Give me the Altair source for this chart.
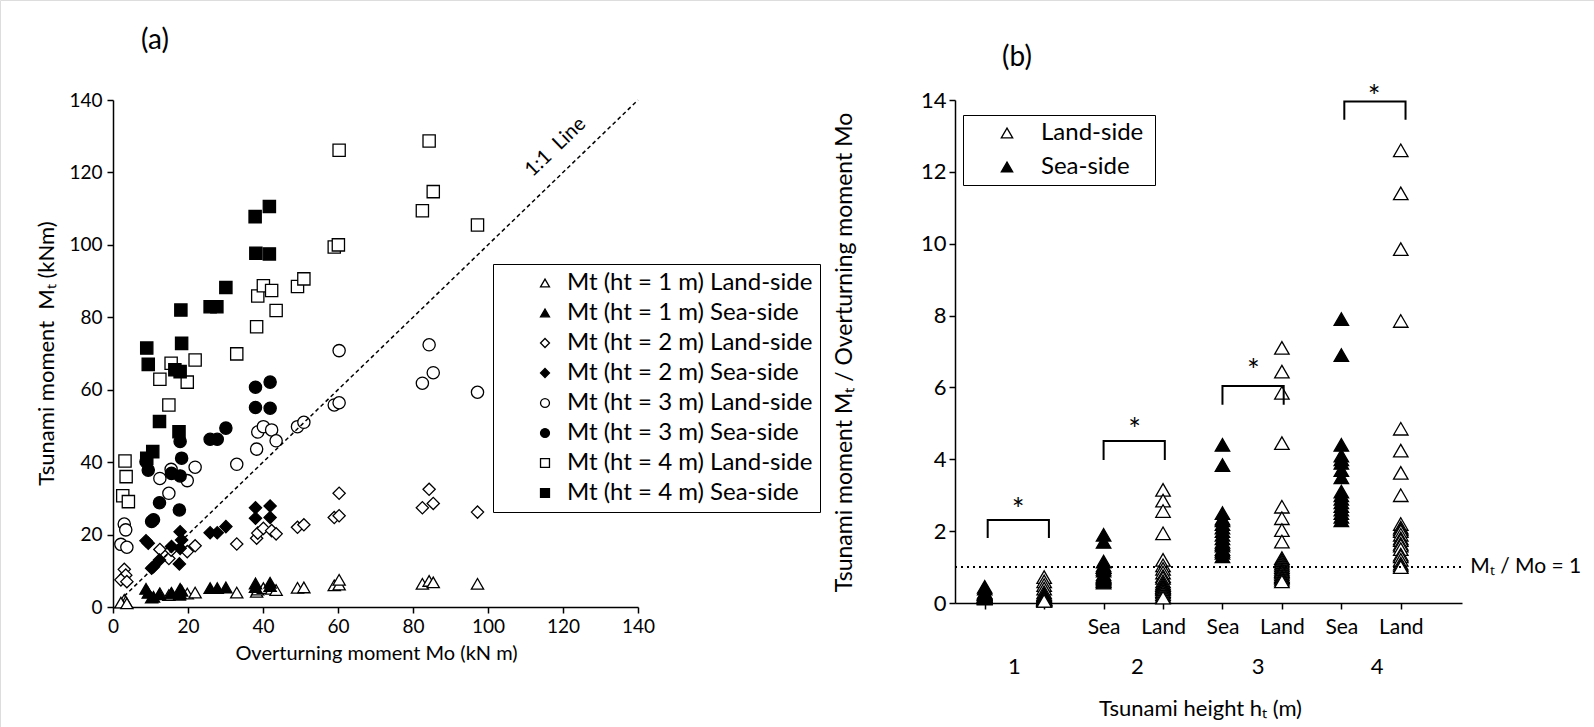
import altair as alt
import pandas as pd

W, H = 1594, 727
FONT = "Lato"
NB = "\u00a0"

# ---------------- Panel (a): Mt vs Mo ----------------
series_names = [
    "Mt (ht = 1 m) Land-side", "Mt (ht = 1 m) Sea-side",
    "Mt (ht = 2 m) Land-side", "Mt (ht = 2 m) Sea-side",
    "Mt (ht = 3 m) Land-side", "Mt (ht = 3 m) Sea-side",
    "Mt (ht = 4 m) Land-side", "Mt (ht = 4 m) Sea-side",
]
series_shapes = ["triangle-up", "triangle-up", "diamond", "diamond",
                 "circle", "circle", "square", "square"]
series_fills = ["white", "black"] * 4

land_x = [3.0, 3.4, 2.1, 3.7, 12.5, 14.9, 15.5, 19.8, 21.9, 33.0, 38.3, 38.6,
          40.1, 42.3, 43.5, 49.2, 50.9, 59.0, 60.3, 60.3, 82.5, 84.3, 85.4, 97.2]
land_x4 = [3.2, 3.5, 2.6, 4.1, 12.5, 14.9, 15.5, 19.8, 21.9, 33.0, 38.3, 38.6,
           40.1, 42.3, 43.5, 49.2, 50.9, 59.0, 60.1, 60.3, 82.5, 84.3, 85.4, 97.2]
sea_x = [8.8, 9.4, 10.3, 10.8, 12.4, 15.6, 17.7, 17.9, 17.9, 18.3, 25.9, 27.8,
         30.1, 38.0, 38.0, 41.9, 41.9]
sea_x4 = [9.0, 9.4, 10.6, 9.0, 12.4, 16.5, 17.9, 17.6, 18.1, 18.3, 25.9, 27.7,
          30.1, 37.9, 41.7, 38.1, 41.7]

mt1_land = [2.0, 1.5, 1.2, 1.0, 3.8, 3.3, 3.7, 3.7, 4.0, 4.0, 4.2, 4.8,
            5.2, 5.0, 4.7, 5.3, 5.4, 6.0, 6.2, 7.5, 6.4, 7.2, 6.8, 6.4]
mt1_sea = [5.0, 3.9, 2.6, 2.8, 3.5, 3.9, 3.4, 5.0, 3.8, 4.5, 5.2, 5.2,
           5.4, 6.5, 5.5, 6.7, 5.8]
mt2_land = [10.4, 8.8, 7.5, 7.0, 15.9, 13.4, 15.7, 15.3, 16.9, 17.4, 19.0, 20.4,
            21.7, 21.1, 20.2, 22.0, 22.7, 24.7, 25.2, 31.4, 27.4, 32.5, 28.6, 26.2]
mt2_sea = [18.3, 17.6, 10.7, 11.1, 13.0, 16.7, 11.9, 20.8, 16.2, 18.5, 20.5, 20.5,
           22.2, 27.4, 24.5, 27.9, 24.7]
mt3_land = [22.9, 21.3, 17.3, 16.5, 35.5, 31.4, 38.0, 34.9, 38.6, 39.4, 43.6, 48.3,
            49.8, 48.9, 45.9, 49.8, 51.0, 55.8, 56.4, 70.8, 61.8, 72.4, 64.7, 59.3]
mt3_sea = [40.1, 37.8, 23.6, 24.1, 28.8, 36.9, 26.8, 45.7, 36.2, 41.1, 46.3, 46.3,
           49.4, 60.7, 55.1, 62.1, 54.9]
mt4_land = [40.3, 36.0, 30.7, 29.1, 62.9, 55.8, 67.3, 62.1, 68.2, 69.9, 77.4, 85.9,
            88.7, 87.4, 81.9, 88.5, 90.6, 99.4, 100.0, 126.1, 109.4, 128.7, 114.7, 105.5]
mt4_sea = [71.5, 67.0, 42.9, 41.1, 51.2, 65.5, 65.0, 48.4, 82.0, 72.8, 82.9, 82.9,
           88.2, 107.8, 110.6, 97.7, 97.5]

line_x = [3, 140]
line_y = [3, 140]

# ---------------- Panel (b): Mt / Mo ----------------
cat_pos = [1, 2, 3, 4, 5, 6, 7, 8]
r1_sea = [0.45, 0.40, 0.30, 0.28, 0.26, 0.25, 0.25, 0.22, 0.20, 0.19, 0.19, 0.18,
          0.17, 0.16, 0.15, 0.14, 0.12]
r1_land = [0.72, 0.60, 0.50, 0.40, 0.30, 0.25, 0.22, 0.20, 0.18, 0.15, 0.13, 0.12,
           0.12, 0.11, 0.11, 0.10, 0.10, 0.10, 0.09, 0.08, 0.08, 0.07, 0.07, 0.06]
r2_sea = [1.90, 1.70, 1.15, 1.05, 1.00, 1.00, 0.95, 0.90, 0.80, 0.75, 0.72, 0.70,
          0.68, 0.65, 0.62, 0.60, 0.57]
r2_land = [3.15, 2.85, 2.56, 1.94, 1.20, 1.05, 0.95, 0.85, 0.75, 0.70, 0.60, 0.55,
           0.50, 0.50, 0.45, 0.45, 0.42, 0.40, 0.38, 0.33, 0.30, 0.25, 0.20, 0.15]
r3_sea = [4.40, 3.84, 2.50, 2.35, 2.30, 2.20, 2.10, 2.00, 1.90, 1.80, 1.70, 1.65,
          1.60, 1.50, 1.45, 1.40, 1.30]
r3_land = [7.10, 6.44, 5.85, 4.45, 2.68, 2.36, 2.03, 1.71, 1.25, 1.20, 1.15, 1.10,
           1.05, 1.00, 0.95, 0.90, 0.88, 0.85, 0.80, 0.75, 0.72, 0.70, 0.65, 0.60]
r4_sea = [7.90, 6.90, 4.40, 4.10, 4.00, 3.90, 3.70, 3.50, 3.10, 3.00, 2.90, 2.80,
          2.70, 2.60, 2.50, 2.40, 2.30]
r4_land = [12.60, 11.40, 9.85, 7.85, 4.85, 4.24, 3.62, 3.00, 2.20, 2.10, 2.05, 2.00,
           1.90, 1.80, 1.75, 1.65, 1.60, 1.50, 1.35, 1.30, 1.20, 1.10, 1.05, 1.00]

bracket_id = [1, 1, 1, 1, 2, 2, 2, 2, 3, 3, 3, 3, 4, 4, 4, 4]
bracket_ord = [0, 1, 2, 3] * 4
bracket_x = [1.05, 1.05, 2.08, 2.08, 3.0, 3.0, 4.03, 4.03,
             5.0, 5.0, 6.03, 6.03, 7.05, 7.05, 8.08, 8.08]
bracket_y = [1.81, 2.31, 2.31, 1.81, 3.98, 4.51, 4.51, 3.98,
             5.52, 6.04, 6.04, 5.52, 13.45, 13.96, 13.96, 13.45]
star_x = [1.56, 3.52, 5.52, 7.55]
star_y = [2.55, 4.78, 6.42, 14.05]

group_labels = ["1", "2", "3", "4"]
group_x = [1.5, 3.57, 5.6, 7.6]
ref_x = [0.5, 9.03]
ref_y = [1, 1]

# ---------------- build tables ----------------
rows = []
for name, xs, ys in zip(series_names,
                        [land_x, sea_x, land_x, sea_x, land_x, sea_x, land_x4, sea_x4],
                        [mt1_land, mt1_sea, mt2_land, mt2_sea, mt3_land, mt3_sea, mt4_land, mt4_sea]):
    for xv, yv in zip(xs, ys):
        rows.append({"x": xv, "y": yv, "series": name})
left_df = pd.DataFrame(rows)

rrows = []
for p, vals in zip(cat_pos, [r1_sea, r1_land, r2_sea, r2_land, r3_sea, r3_land, r4_sea, r4_land]):
    side = "Sea-side" if p % 2 == 1 else "Land-side"
    for v in vals:
        rrows.append({"pos": p, "v": v, "side": side})
right_df = pd.DataFrame(rrows)

# ---------------- panel (a) ----------------
axis_common = dict(grid=False, domainColor="black", domainWidth=1.5, tickColor="black",
                   tickWidth=1.5, labelFont=FONT, labelColor="black",
                   labelFlush=False, labelOverlap=False, titleFont=FONT,
                   titleFontWeight="normal", titleColor="black",
                   titleAlign="center", titleBaseline="middle")

xa = alt.X("x:Q", scale=alt.Scale(domain=[0, 140], range=[113, 638], nice=False, zero=False),
           axis=alt.Axis(orient="bottom", offset=-(H - 607), values=list(range(0, 141, 20)),
                         labelFontSize=19, labelPadding=4, tickSize=6,
                         title="Overturning moment Mo (kN m)", titleFontSize=20,
                         titleX=376, titleY=46, **axis_common))
ya = alt.Y("y:Q", scale=alt.Scale(domain=[0, 140], range=[607, 100], nice=False, zero=False),
           axis=alt.Axis(orient="left", offset=-113, values=list(range(0, 141, 20)),
                         labelFontSize=19, labelPadding=5, tickSize=6,
                         title="Tsunami moment" + NB + NB + "M\u209c (kNm)", titleFontSize=22,
                         titleX=-67, titleY=353, titleAngle=270, **axis_common))

legend_a = alt.Legend(orient="none", legendX=493, legendY=264, title=None,
                      strokeColor="black", fillColor="white", padding=7,
                      symbolSize=80, symbolStrokeColor="black", symbolStrokeWidth=1.3,
                      symbolOffset=33, labelOffset=10, labelFont=FONT, labelFontSize=24,
                      labelColor="black", rowPadding=6, labelLimit=400,
                      labelExpr="datum.label + '" + NB * 2 + "'")

pts_a = alt.Chart(left_df).mark_point(filled=True, strokeWidth=1.3,
                                      size=150, opacity=1).encode(
    x=xa, y=ya,
    shape=alt.Shape("series:N", scale=alt.Scale(domain=series_names, range=series_shapes),
                    legend=legend_a),
    fill=alt.Fill("series:N", scale=alt.Scale(domain=series_names, range=series_fills),
                  legend=legend_a),
    stroke=alt.Stroke("series:N", scale=alt.Scale(domain=series_names, range=["black"] * 8),
                      legend=legend_a),
)

one_df = pd.DataFrame({"x": line_x, "y": line_y})
line_a = alt.Chart(one_df).mark_line(color="black", strokeWidth=1.5,
                                     strokeDash=[4, 3]).encode(x=xa, y=ya)

lbl_df = pd.DataFrame({"x": [118], "y": [127], "t": ["1:1" + NB + NB + "Line"]})
lbl_a = alt.Chart(lbl_df).mark_text(font=FONT, fontSize=20, angle=316,
                                    color="black").encode(x=xa, y=ya, text="t:N")

ta_df = pd.DataFrame({"t": ["(a)"]})
title_a = alt.Chart(ta_df).mark_text(font=FONT, fontSize=28, color="black").encode(
    x=alt.value(155), y=alt.value(41), text="t:N")

panel_a = alt.layer(pts_a, line_a, lbl_a, title_a)

# ---------------- panel (b) ----------------
xb = alt.X("pos:Q", scale=alt.Scale(domain=[0.5, 9.03], range=[955, 1462], nice=False, zero=False),
           axis=alt.Axis(orient="bottom", offset=-(H - 603), values=cat_pos,
                         labelExpr="datum.value == 3 || datum.value == 5 || datum.value == 7 ? 'Sea' : (datum.value == 4 || datum.value == 6 || datum.value == 8 ? 'Land' : '')",
                         labelFontSize=21, labelPadding=7, tickSize=6,
                         title="Tsunami height h\u209c (m)", titleFontSize=22,
                         titleX=1200, titleY=105, **axis_common))
yb = alt.Y("v:Q", scale=alt.Scale(domain=[0, 14], range=[603, 100], nice=False, zero=False),
           axis=alt.Axis(orient="left", offset=-955, values=list(range(0, 15, 2)),
                         labelFontSize=22, labelPadding=3, tickSize=6,
                         title="Tsunami moment M\u209c / Overturning moment Mo", titleFontSize=23,
                         titleX=-111, titleY=352, titleAngle=270, **axis_common))

legend_b = alt.Legend(orient="none", legendX=963, legendY=115,
                      title=NB + NB, titleOrient="right", titleFontSize=24, titlePadding=6,
                      strokeColor="black", fillColor="white", padding=6,
                      symbolType="triangle-up", symbolSize=130, symbolStrokeColor="black",
                      symbolStrokeWidth=1.3, symbolOffset=26, labelOffset=22,
                      labelFont=FONT, labelFontSize=24, labelColor="black", rowPadding=10,
                      labelExpr="datum.label + '" + NB * 4 + "'")

pts_b = alt.Chart(right_df).mark_point(filled=True, shape="triangle-up",
                                       strokeWidth=1.3, size=210, opacity=1).encode(
    x=xb, y=yb,
    fill=alt.Fill("side:N", scale=alt.Scale(domain=["Land-side", "Sea-side"],
                                            range=["white", "black"]), legend=legend_b),
    stroke=alt.Stroke("side:N", scale=alt.Scale(domain=["Land-side", "Sea-side"],
                                                range=["black", "black"]), legend=legend_b),
)

ref_df = pd.DataFrame({"pos": ref_x, "v": ref_y})
ref_b = alt.Chart(ref_df).mark_line(color="black", strokeWidth=2, strokeDash=[2, 4]).encode(
    x=xb, y=yb)

ref_lbl_df = pd.DataFrame({"pos": [9.17], "v": [1], "t": ["M\u209c / Mo = 1"]})
ref_lbl = alt.Chart(ref_lbl_df).mark_text(font=FONT, fontSize=21, align="left",
                                          baseline="middle", color="black", clip=False).encode(
    x=xb, y=yb, text="t:N")

br_df = pd.DataFrame({"pos": bracket_x, "v": bracket_y, "id": bracket_id, "o": bracket_ord})
br_b = alt.Chart(br_df).mark_line(color="black", strokeWidth=2, clip=False).encode(
    x=xb, y=yb, detail="id:N", order="o:Q")

star_df = pd.DataFrame({"pos": star_x, "v": star_y, "t": ["*"] * 4})
star_b = alt.Chart(star_df).mark_text(font=FONT, fontSize=30, baseline="middle",
                                      color="black", clip=False).encode(x=xb, y=yb, text="t:N")

grp_df = pd.DataFrame({"pos": group_x, "t": group_labels})
grp_b = alt.Chart(grp_df).mark_text(font=FONT, fontSize=22, baseline="middle",
                                    color="black").encode(x=xb, y=alt.value(667), text="t:N")

tb_df = pd.DataFrame({"t": ["(b)"]})
title_b = alt.Chart(tb_df).mark_text(font=FONT, fontSize=28, color="black").encode(
    x=alt.value(1017), y=alt.value(58), text="t:N")

panel_b = alt.layer(pts_b, ref_b, ref_lbl, br_b, star_b, grp_b, title_b)

chart = alt.layer(panel_a, panel_b).resolve_scale(
    x="independent", y="independent", shape="independent", fill="independent",
    stroke="independent"
).resolve_legend(shape="independent", fill="independent", stroke="independent").properties(
    width=W, height=H, padding=0, autosize=alt.AutoSizeParams(type="none")
).configure_view(stroke=None).configure(font=FONT, background="white")

chart.save("out.html", embed_options={"renderer": "svg", "actions": False})
